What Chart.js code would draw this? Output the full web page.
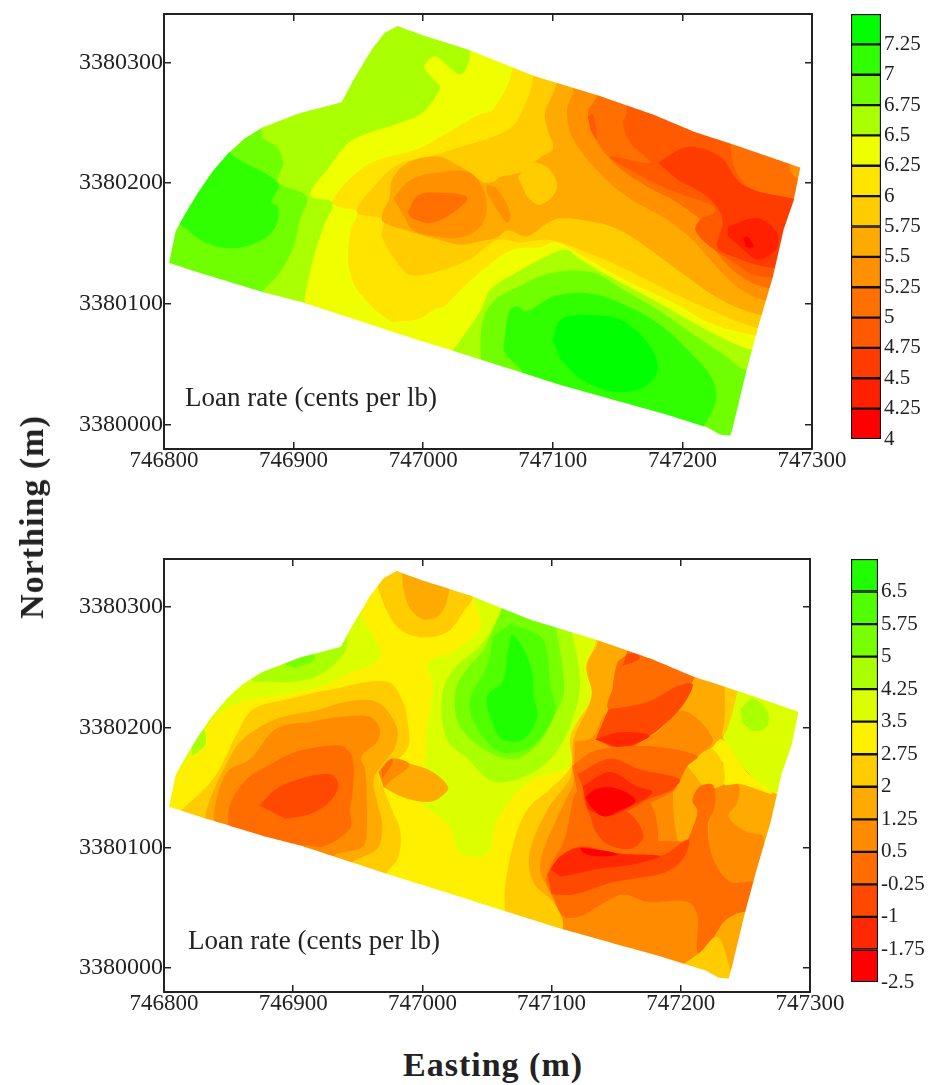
<!DOCTYPE html>
<html>
<head>
<meta charset="utf-8">
<title>Loan rate maps</title>
<script src="https://cdn.jsdelivr.net/npm/chart.js@4/dist/chart.umd.min.js"></script>
<style>
  html, body { margin: 0; padding: 0; background: #fff; }
  body { position: relative; width: 930px; height: 1085px; overflow: hidden; font-family: "Liberation Serif", serif; color: #222; }
  canvas { position: absolute; }
  .note { position: absolute; font-size: 27px; line-height: 30px; white-space: nowrap; }
  .axis-name { position: absolute; font-size: 34px; font-weight: bold; letter-spacing: 1px; line-height: 38px; white-space: nowrap; }
</style>
</head>
<body>
<canvas id="top-map" width="860" height="480" style="left:0;top:0"></canvas>
<canvas id="top-bar" width="90" height="460" style="left:840px;top:0"></canvas>
<canvas id="bottom-map" width="860" height="480" style="left:0;top:545px"></canvas>
<canvas id="bottom-bar" width="90" height="460" style="left:840px;top:545px"></canvas>
<div class="note" style="left:185px;top:382px">Loan rate (cents per lb)</div>
<div class="note" style="left:188px;top:925px">Loan rate (cents per lb)</div>
<div class="axis-name" style="left:403px;top:1046px">Easting (m)</div>
<div class="axis-name" id="northing" style="left:32px;top:517px;transform:translate(-50%,-50%) rotate(-90deg)">Northing (m)</div>
<script>
// Axis ranges
const eastingMin = 746800;
const eastingMax = 747300;
const northingMin = 3379980;
const northingMax = 3380340;
const northingOrigin = 3380000;

// Colour bar levels and labels
const topLevels = [4, 4.25, 4.5, 4.75, 5, 5.25, 5.5, 5.75, 6, 6.25, 6.5, 6.75, 7, 7.25, 7.5];
const bottomLevels = [-2.5, -1.75, -1, -0.25, 0.5, 1.25, 2, 2.75, 3.5, 4.25, 5, 5.75, 6.5, 7.25];
const topColors = ['#ff0000', '#ff2000', '#ff3c00', '#ff5a00', '#ff7000', '#ff9000', '#ffaa00', '#ffcc00', '#ffe400', '#f0ff00', '#aaff00', '#70ff00', '#30ff00', '#00ff00'];
const bottomColors = ['#ff0000', '#ff2800', '#ff4800', '#ff6c00', '#ff8c00', '#ffaa00', '#ffcc00', '#fff000', '#dcff00', '#aaff00', '#78ff00', '#50ff00', '#20ff00'];

// All outlines are [metres east of 746800, metres north of 3380000]
const fieldOutline = [[4,134],[9,160],[15,172],[25,190],[37,209],[48,223],[61,236],[76,246],[105,258],[137,267],[145,283],[160,310],[170,324],[180,330],[198,323],[236,310],[285,289],[334,273],[377,257],[408,243],[445,230],[491,213],[486,186],[478,161],[470,123],[458,79],[449,43],[439,-2],[437,-9],[429,-8],[419,-2],[383,10],[306,33],[262,48],[215,64],[182,75],[105,102],[76,110],[33,124]];
const wholePlot = [[0,-20],[0,340],[500,340],[500,-20]];

// Upper map contours
const topNorth65 = [[236,335],[236,310],[235,300],[229,290],[218,298],[209,305],[201,296],[208,286],[213,279],[199,258],[182,250],[154,240],[141,232],[128,214],[113,190],[130,184],[123,164],[115,137],[109,108],[105,87],[0,87],[0,335]];
const topWest675 = [[76,252],[76,238],[87,230],[92,217],[88,201],[110,189],[105,170],[99,145],[88,124],[76,110],[66,87],[0,87],[0,252]];
const topWest7 = [[48,232],[53,223],[88,200],[83,184],[88,180],[86,164],[74,152],[51,146],[30,152],[15,164],[1,174],[1,232]];
const topCentre6 = [[269,340],[269,294],[254,261],[244,257],[221,243],[195,228],[164,219],[149,209],[136,195],[130,184],[136,180],[149,176],[144,161],[142,139],[144,124],[151,109],[177,85],[195,87],[215,97],[259,79],[499,79],[499,340]];
const topCentre575 = [[285,340],[285,289],[277,261],[265,244],[223,228],[205,222],[180,215],[161,196],[149,176],[169,170],[168,156],[180,134],[190,124],[211,127],[236,137],[257,153],[275,151],[290,153],[303,152],[321,145],[344,135],[367,123],[393,109],[424,94],[458,80],[499,75],[499,340]];
const topCentre55 = [[303,340],[303,284],[294,258],[296,244],[300,229],[290,221],[275,209],[259,205],[254,201],[246,201],[236,209],[223,217],[211,222],[188,217],[176,203],[174,188],[169,176],[169,168],[190,160],[213,153],[229,149],[244,152],[257,155],[265,161],[280,156],[296,167],[306,171],[331,168],[352,161],[375,145],[398,127],[429,104],[460,91],[499,85],[499,340]];
const topEast525 = [[316,340],[316,277],[311,261],[315,238],[334,211],[357,189],[388,170],[408,153],[427,130],[445,112],[464,103],[499,99],[499,340]];
const topBlob525 = [[177,188],[191,203],[213,209],[235,209],[246,196],[249,178],[244,164],[229,155],[208,156],[192,161],[186,171]];
const topStripe525 = [[249,199],[257,195],[267,176],[265,167],[257,178],[249,192]];
const topEast5 = [[334,340],[334,273],[327,258],[335,233],[350,214],[373,197],[396,184],[419,164],[427,142],[445,123],[466,113],[499,110],[499,340]];
const topBlob5 = [[188,176],[196,190],[213,192],[234,188],[221,174],[205,167],[191,171]];
const topCircle575 = [[273,205],[283,217],[298,211],[303,195],[290,182],[280,189]];
const topEast475 = [[357,340],[357,258],[354,250],[360,233],[375,217],[344,222],[373,203],[396,192],[424,181],[425,176],[414,170],[410,161],[422,147],[439,135],[455,124],[468,122],[499,120],[499,340]];
const topNotch475 = [[327,255],[331,257],[334,236],[329,244]];
const topCorner5 = [[437,244],[437,230],[441,211],[452,196],[483,188],[499,186],[499,244]];
const topTip525 = [[482,227],[485,207],[499,203],[499,228]];
const topEast45 = [[381,217],[404,230],[429,222],[442,203],[452,196],[483,188],[499,182],[499,128],[470,130],[458,132],[442,138],[427,147],[431,166],[429,176],[419,189],[396,203]];
const topEast425 = [[435,164],[458,171],[473,159],[472,145],[458,137],[445,147],[435,156]];
const topEast4 = [[447,155],[451,155],[455,147],[449,147]];
const topSouth625 = [[177,66],[177,84],[195,87],[215,97],[229,112],[249,131],[269,145],[290,147],[303,151],[321,141],[342,128],[367,114],[393,101],[424,83],[456,74],[499,66],[499,-17],[177,-17]];
const topSouth65 = [[218,54],[244,94],[252,112],[275,128],[300,142],[311,145],[321,137],[352,118],[375,105],[398,91],[429,73],[454,62],[499,55],[499,-17],[218,-17]];
const topSouth675 = [[245,41],[245,81],[254,102],[273,114],[300,126],[331,126],[354,112],[383,94],[408,75],[432,58],[449,45],[499,33],[499,-17],[245,-17]];
const topSouth7 = [[277,33],[277,43],[263,60],[263,73],[267,95],[273,98],[280,94],[300,106],[327,109],[352,101],[381,84],[404,62],[422,40],[426,21],[416,-2],[406,-17],[277,-17]];
const topSouth725 = [[300,70],[306,87],[327,91],[352,87],[373,68],[381,48],[373,33],[350,27],[323,37],[306,54]];

// Lower map contours
const lowNorthWest35 = [[153,315],[153,294],[167,265],[165,255],[146,246],[121,234],[87,226],[59,221],[38,207],[20,176],[10,163],[0,153],[0,315]];
const lowNorthWest425 = [[142,291],[142,275],[139,261],[121,244],[100,238],[80,238],[67,240],[50,273],[142,310]];
const lowNorthWest5 = [[95,251],[103,250],[117,258],[105,269],[90,265]];
const lowWestSpot425 = [[22,176],[32,186],[30,199],[20,194]];
const lowCentre35 = [[239,323],[239,308],[245,284],[224,263],[204,254],[208,234],[204,204],[202,174],[200,138],[221,118],[229,96],[250,95],[258,124],[283,155],[314,168],[314,190],[318,201],[331,226],[327,251],[334,270],[337,290],[260,327]];
const lowCentre425 = [[268,307],[256,286],[245,268],[224,248],[215,226],[219,190],[235,174],[255,155],[281,160],[301,176],[314,201],[322,234],[316,278],[310,298]];
const lowCentre5 = [[248,265],[229,240],[225,221],[229,201],[245,184],[262,175],[276,175],[291,188],[301,207],[309,226],[309,246],[304,279],[299,307],[268,315]];
const lowCentre575 = [[268,286],[291,276],[297,259],[299,234],[303,215],[293,193],[281,182],[262,179],[250,188],[238,209],[237,224],[250,251],[255,276]];
const lowCentre65 = [[269,278],[277,268],[285,246],[286,226],[289,209],[278,190],[262,190],[254,204],[250,226],[262,238],[266,263]];
const lowBowl2 = [[166,332],[166,315],[180,284],[198,275],[219,279],[233,298],[239,308],[239,332]];
const lowBowl125 = [[183,338],[188,304],[200,290],[214,294],[221,315],[223,336]];
const lowWest2 = [[10,128],[38,157],[57,196],[69,215],[98,224],[131,232],[173,238],[185,221],[189,201],[189,184],[177,170],[166,161],[170,149],[177,130],[183,113],[181,91],[173,80],[163,57],[0,115]];
const lowWest125 = [[32,107],[33,132],[53,179],[64,193],[87,207],[121,215],[139,221],[165,221],[180,201],[179,184],[166,165],[162,155],[165,138],[169,118],[165,99],[146,88],[136,74]];
const lowWest05 = [[39,116],[39,132],[49,163],[67,174],[87,199],[115,205],[139,209],[159,209],[167,199],[165,188],[153,176],[156,163],[157,135],[157,118],[154,101],[131,93],[121,74]];
const lowWestMinus025 = [[50,111],[51,135],[64,157],[80,168],[100,179],[121,184],[139,184],[146,174],[146,146],[144,132],[144,116],[123,101],[105,101],[98,82]];
const lowWestMinus1 = [[74,135],[87,149],[105,157],[121,161],[131,160],[135,151],[128,138],[113,128],[94,124]];
const lowLens125 = [[166,163],[176,174],[190,170],[208,163],[220,150],[214,142],[204,138],[185,142],[170,150]];
const lowLens05 = [[166,163],[176,174],[190,169],[175,155],[170,150]];
const lowLensMinus025 = [[168,165],[176,174],[177,171],[169,157]];
const lowEast2 = [[264,41],[264,68],[273,113],[283,134],[299,149],[315,168],[314,190],[318,201],[331,226],[327,251],[334,270],[337,290],[499,290],[499,16],[264,16]];
const lowEast125 = [[337,290],[336,271],[327,251],[331,226],[317,190],[316,169],[314,157],[297,132],[283,96],[286,71],[301,55],[309,37],[309,16],[499,16],[499,290]];
const lowMiddle05 = [[318,188],[332,192],[343,211],[376,193],[401,214],[425,190],[413,176],[405,168],[399,157],[394,147],[398,105],[415,57],[415,7],[309,7],[309,34],[308,43],[300,60],[291,85],[304,124],[317,153]];
const lowSouthEast05 = [[425,152],[444,153],[444,138],[437,126],[451,113],[464,109],[457,72],[438,72],[425,82],[421,126],[419,140]];
const lowSliver2 = [[434,249],[434,232],[434,209],[432,193],[436,199],[440,213],[444,234],[444,248]];
const lowCorner35 = [[444,256],[444,234],[440,213],[436,199],[433,190],[454,160],[473,145],[499,140],[499,257]];
const lowCornerSpot425 = [[446,215],[456,224],[467,213],[467,201],[457,197],[448,203]];
const lowWedge275 = [[423,182],[432,190],[451,163],[471,145],[446,153],[433,153],[433,170]];
const lowPatch2 = [[405,168],[423,182],[432,170],[433,153],[419,150],[411,160]];
const lowSouthMinus025 = [[405,105],[413,130],[409,139],[415,151],[425,152],[426,133],[421,120],[425,91],[438,72],[457,72],[485,70],[485,45],[451,47],[436,41],[428,30],[420,13],[413,13],[413,43],[405,55],[374,55],[355,61],[337,52],[322,43],[309,43],[301,60],[296,76],[310,107],[320,146],[337,107]];
const lowRingMinus025 = [[358,130],[374,139],[382,118],[379,97],[355,95],[343,101],[332,113],[328,134],[340,126]];
const lowRingMinus1 = [[328,132],[340,126],[358,130],[371,110],[361,99],[343,103],[334,113]];
const lowNorthMinus025 = [[358,278],[358,261],[351,254],[347,232],[344,215],[376,194],[399,223],[409,238],[411,244],[411,265]];
const lowNorthMinus1 = [[344,215],[374,221],[397,234],[409,236],[405,224],[394,209],[376,193],[355,182],[334,190]];
const lowNorthMinus175 = [[334,190],[353,196],[376,193],[355,182]];
const lowEdgeMinus1 = [[358,261],[366,261],[368,257],[355,251]];
const lowMidMinus025 = [[316,168],[332,180],[353,184],[382,184],[413,176],[405,168],[399,155],[393,146],[361,132],[330,132],[320,146]];
const lowMidMinus1 = [[320,161],[345,174],[368,165],[399,157],[393,148],[374,140],[358,130],[343,126],[328,132],[324,151]];
const lowMidMinus175 = [[324,151],[345,163],[366,151],[378,146],[361,134],[343,126],[328,132]];
const lowMidMinus25 = [[326,142],[335,149],[351,149],[365,139],[351,130],[340,126],[330,134]];
const lowCrescentMinus1 = [[297,78],[307,93],[322,101],[343,97],[353,95],[384,93],[406,107],[402,91],[389,80],[374,76],[351,72],[332,66],[317,61],[300,61]];
const lowCrescentMinus175 = [[299,82],[307,93],[322,100],[343,97],[353,95],[384,93],[363,86],[340,83],[317,78],[307,76]];
const lowCrescentMinus25 = [[322,100],[343,97],[351,94],[332,93],[324,96]];
const lowTip2 = [[402,3],[415,13],[428,26],[436,7],[438,-13],[402,-13]];

// Paint order: each entry is [colour, outline], later ones cover earlier ones
const topLayers = [
  [topColors[9], wholePlot],
  [topColors[10], topNorth65], [topColors[11], topWest675], [topColors[12], topWest7],
  [topColors[8], topCentre6], [topColors[7], topCentre575], [topColors[6], topCentre55],
  [topColors[5], topEast525], [topColors[5], topBlob525], [topColors[5], topStripe525],
  [topColors[4], topEast5], [topColors[4], topBlob5], [topColors[7], topCircle575],
  [topColors[3], topEast475], [topColors[3], topNotch475], [topColors[2], topEast45],
  [topColors[4], topCorner5], [topColors[5], topTip525], [topColors[1], topEast425], [topColors[0], topEast4],
  [topColors[9], topSouth625], [topColors[10], topSouth65], [topColors[11], topSouth675],
  [topColors[12], topSouth7], [topColors[13], topSouth725],
];
const bottomLayers = [
  [bottomColors[7], wholePlot],
  [bottomColors[8], lowNorthWest35], [bottomColors[9], lowNorthWest425], [bottomColors[10], lowNorthWest5], [bottomColors[9], lowWestSpot425],
  [bottomColors[8], lowCentre35], [bottomColors[9], lowCentre425], [bottomColors[10], lowCentre5], [bottomColors[11], lowCentre575], [bottomColors[12], lowCentre65],
  [bottomColors[6], lowBowl2], [bottomColors[5], lowBowl125],
  [bottomColors[6], lowWest2], [bottomColors[5], lowWest125], [bottomColors[4], lowWest05], [bottomColors[3], lowWestMinus025], [bottomColors[2], lowWestMinus1],
  [bottomColors[5], lowLens125], [bottomColors[4], lowLens05], [bottomColors[3], lowLensMinus025],
  [bottomColors[6], lowEast2], [bottomColors[5], lowEast125], [bottomColors[4], lowMiddle05], [bottomColors[4], lowSouthEast05],
  [bottomColors[6], lowSliver2], [bottomColors[8], lowCorner35], [bottomColors[9], lowCornerSpot425], [bottomColors[7], lowWedge275], [bottomColors[6], lowPatch2],
  [bottomColors[3], lowSouthMinus025], [bottomColors[3], lowRingMinus025], [bottomColors[2], lowRingMinus1],
  [bottomColors[3], lowNorthMinus025], [bottomColors[2], lowNorthMinus1], [bottomColors[1], lowNorthMinus175], [bottomColors[2], lowEdgeMinus1],
  [bottomColors[3], lowMidMinus025], [bottomColors[2], lowMidMinus1], [bottomColors[1], lowMidMinus175], [bottomColors[0], lowMidMinus25],
  [bottomColors[2], lowCrescentMinus1], [bottomColors[1], lowCrescentMinus175], [bottomColors[0], lowCrescentMinus25],
  [bottomColors[6], lowTip2],
];

const inkColor = '#222';
const serif = 'Liberation Serif';

function toPoints(outline) {
  return outline.map(([east, north]) => ({ x: eastingMin + east, y: northingOrigin + north }));
}

function contourDataset(color, outline, tension) {
  return {
    data: toPoints(outline),
    showLine: true,
    fill: 'shape',
    backgroundColor: color,
    borderWidth: 0,
    pointRadius: 0,
    tension: tension,
  };
}

// White sheet with a keyhole cut out, hides whatever runs past the field edge
function maskDataset() {
  const sheet = [[0, -20], [0, 340], [500, 340], [500, -20], [0, -20]];
  const hole = [...fieldOutline, fieldOutline[0]].reverse();
  return contourDataset('#fff', [...sheet, ...hole, [0, -20]], 0.001);
}

// Fixed axis thickness, and no label overhang so the plot area lands where it should
function fixScaleSize(scale, size) {
  if (scale.isHorizontal()) {
    scale.height = size;
  } else {
    scale.width = size;
  }
  scale.paddingTop = 0;
  scale.paddingBottom = 0;
  scale.paddingLeft = 0;
  scale.paddingRight = 0;
}

function axisOptions(position, axis, labelled, size) {
  const horizontal = axis === 'x';
  return {
    type: 'linear',
    axis: axis,
    position: position,
    min: horizontal ? eastingMin : northingMin,
    max: horizontal ? eastingMax : northingMax,
    border: { display: true, color: inkColor, width: 2, z: 1 },
    grid: { drawOnChartArea: false, drawTicks: true, tickLength: -7, color: inkColor, lineWidth: 1.5, z: 1 },
    ticks: {
      display: labelled,
      stepSize: 100,
      includeBounds: false,
      autoSkip: false,
      maxRotation: 0,
      padding: horizontal ? 5 : 8,
      color: inkColor,
      font: { family: serif, size: horizontal ? 23 : 24 },
      callback: (value) => String(value),
    },
    afterFit: (scale) => fixScaleSize(scale, size),
  };
}

function createMap(canvasId, layers, paddingRight, bottomHeight) {
  const painted = layers.map(([color, outline]) => contourDataset(color, outline, 0.35));
  // Chart.js paints the last dataset first
  const datasets = [maskDataset(), ...painted.reverse()];
  return new Chart(document.getElementById(canvasId), {
    type: 'scatter',
    data: { datasets: datasets },
    options: {
      responsive: false,
      animation: false,
      events: [],
      layout: { padding: { top: 14, right: paddingRight, left: 0, bottom: 0 } },
      plugins: { legend: { display: false }, tooltip: { enabled: false } },
      scales: {
        x: axisOptions('bottom', 'x', true, bottomHeight),
        y: axisOptions('left', 'y', true, 164),
        xTop: axisOptions('top', 'x', false, 0),
        yRight: axisOptions('right', 'y', false, 0),
      },
    },
  });
}

function createColorBar(canvasId, levels, colors, paddingBottom, labelWidth) {
  const step = levels[1] - levels[0];
  const datasets = colors.map((color, i) => ({
    data: [[levels[i], levels[i + 1]]],
    backgroundColor: color,
    borderColor: '#111',
    borderWidth: 1.5,
    borderSkipped: false,
    barPercentage: 1,
    categoryPercentage: 1,
  }));
  return new Chart(document.getElementById(canvasId), {
    type: 'bar',
    data: { labels: ['level'], datasets: datasets },
    options: {
      responsive: false,
      animation: false,
      events: [],
      layout: { padding: { top: 14, left: 11, right: 0, bottom: paddingBottom } },
      plugins: { legend: { display: false }, tooltip: { enabled: false } },
      scales: {
        x: { stacked: true, display: false },
        y: {
          position: 'right',
          min: levels[0],
          max: levels[levels.length - 1],
          border: { display: false },
          grid: { display: false, drawTicks: false },
          ticks: {
            stepSize: step,
            autoSkip: false,
            padding: 3,
            color: inkColor,
            font: { family: serif, size: 21 },
            callback: (value) => (value === levels[levels.length - 1] ? '' : String(value)),
          },
          afterFit: (scale) => fixScaleSize(scale, labelWidth),
        },
      },
    },
  });
}

createMap('top-map', topLayers, 48, 31);
createMap('bottom-map', bottomLayers, 50, 33);
createColorBar('top-bar', topLevels, topColors, 21, 49);
createColorBar('bottom-bar', bottomLevels, bottomColors, 23, 52);
</script>
</body>
</html>
